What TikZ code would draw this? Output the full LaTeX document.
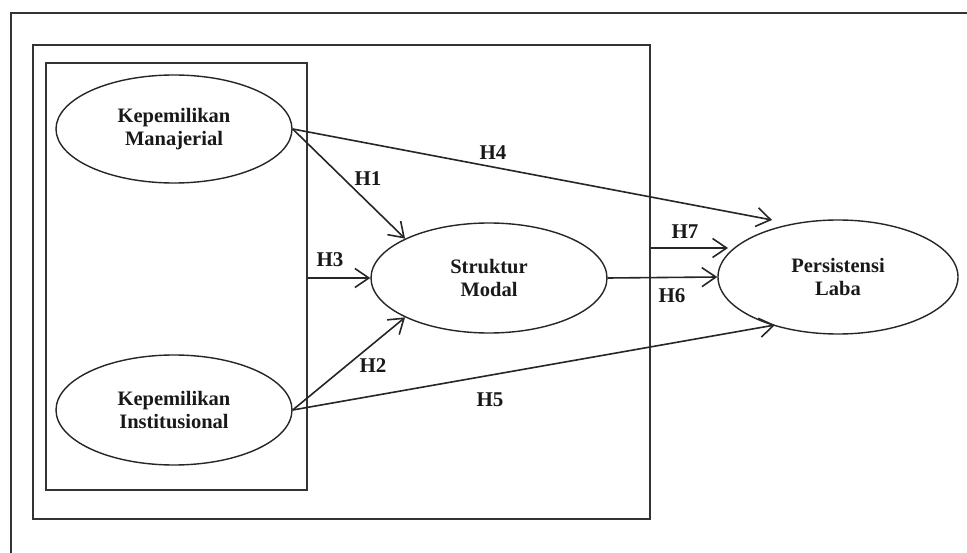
\documentclass[tikz,border=0pt]{standalone}
\usepackage{fontspec}
\setmainfont{Liberation Serif}
\usetikzlibrary{arrows.meta,shapes.geometric,calc}
\begin{document}
\begin{tikzpicture}[x=1pt,y=-1pt,
  frame/.style={draw=black!80,line width=1.8pt},
  varell/.style={ellipse,draw=black!85,line width=1.4pt,inner sep=0pt,
    align=center,font=\fontsize{20.5}{23}\selectfont\bfseries,text=black!90},
  conn/.style={draw=black!85,line width=1.6pt,-{Straight Barb[length=14pt,width=19pt,line width=1.6pt]}},
  hlab/.style={font=\fontsize{21}{24}\selectfont\bfseries,text=black!90,inner sep=0pt}]
\useasboundingbox (0,0) rectangle (967,553);
\fill[white] (0,0) rectangle (967,553);
% outer frame (only top and left visible)
\draw[frame] (11,553) -- (11,13) -- (967,13);
% middle and inner boxes
\node[frame,minimum width=617pt,minimum height=474pt,inner sep=0pt] (mid) at (341.5,282) {};
\node[frame,minimum width=261pt,minimum height=427pt,inner sep=0pt] (inner) at (176.5,276.5) {};
% variables
\node[varell,minimum width=236pt,minimum height=108pt] (km) at (174,129) {Kepemilikan\\Manajerial};
\node[varell,minimum width=236pt,minimum height=110pt] (ki) at (174,410) {Kepemilikan\\Institusional};
\node[varell,minimum width=236pt,minimum height=110pt] (sm) at (489,278) {Struktur\\Modal};
\node[varell,minimum width=240pt,minimum height=114pt] (pl) at (838,277) {Persistensi\\Laba};
% arrow end points
\coordinate (h4end) at ($(pl.center)+(-66,-57)$);
\coordinate (h5end) at ($(pl.center)+(-63,48)$);
\coordinate (h7start) at (mid.east |- 0,248);
\coordinate (h7end) at (728,248);
% connectors
\draw[conn] (km.east) -- (sm.north west);
\draw[conn] (km.east) -- (h4end);
\draw[conn] (ki.east) -- (sm.south west);
\draw[conn] (ki.east) -- (h5end);
\draw[conn] (inner.east |- sm.west) -- (sm.west);
\draw[conn] (sm.east) -- (pl.west);
\draw[conn] (h7start) -- (h7end);
% labels
\node[hlab] (l1) at (368,179) {H1};
\node[hlab] (l2) at (373,366) {H2};
\node[hlab] (l3) at (330,260) {H3};
\node[hlab] (l4) at (493,153) {H4};
\node[hlab] (l5) at (490,400) {H5};
\node[hlab] (l6) at (672,296) {H6};
\node[hlab] (l7) at (685,232) {H7};
\end{tikzpicture}
\end{document}
